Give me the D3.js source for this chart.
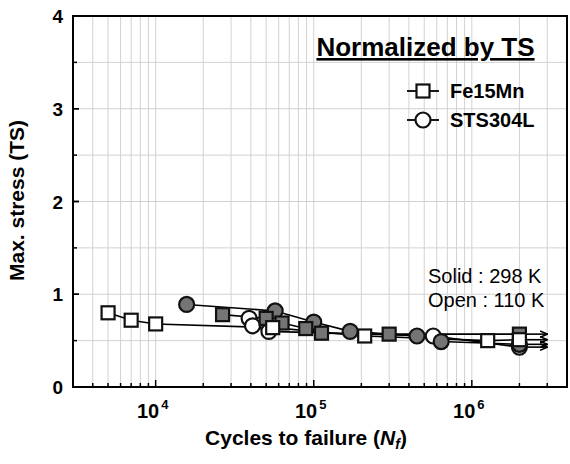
<!DOCTYPE html>
<meta charset="utf-8">
<title>Max. stress vs cycles to failure</title>
<script src="https://d3js.org/d3.v7.min.js"></script>
<style>
  body { margin: 0; background: #fff; font-family: "Liberation Sans", Arial, sans-serif; }
</style>
<div id="chart"></div>
<script>
// data: [cycles, max stress / TS]
var fe15mnOpen = [[5000, 0.80], [7000, 0.72], [10000, 0.68], [55000, 0.64], [210000, 0.55], [1260000, 0.50], [2000000, 0.51]];
var fe15mnSolid = [[26500, 0.78], [50000, 0.74], [63000, 0.69], [89000, 0.63], [112000, 0.58], [300000, 0.57], [2000000, 0.57]];
var sts304lSolid = [[15700, 0.89], [57000, 0.82], [100000, 0.70], [170000, 0.60], [450000, 0.55], [640000, 0.49], [2000000, 0.46]];
var sts304lOpen = [[39000, 0.74], [41000, 0.66], [52000, 0.60], [570000, 0.55], [2000000, 0.43]];
var runoutEnd = 3000000;
var yTicks = [0, 1, 2, 3, 4];
var xTickExps = [4, 5, 6];

var W = 570, H = 464;
var margins = {top: 16, right: 3, bottom: 77, left: 73},
    width = W - margins.left - margins.right,
    height = H - margins.top - margins.bottom;

var svg = d3.select("#chart").append("svg")
    .attr("width", W).attr("height", H)
  .append("g")
    .attr("transform", "translate(" + margins.left + "," + margins.top + ")");

var x = d3.scaleLog().domain([3000, 4000000]).range([0, width]);
var y = d3.scaleLinear().domain([0, 4]).range([height, 0]);

// minor/major positions on the log axis
var xGrid = [];
[3, 4, 5, 6].forEach(function(e) {
  for (var m = 1; m <= 9; m++) {
    var v = m * Math.pow(10, e);
    if (v > 3000 && v < 4000000) xGrid.push(v);
  }
});
var yGrid = d3.range(0.5, 4, 0.5);

// gridlines
svg.append("g").selectAll("line").data(xGrid).enter().append("line")
  .attr("x1", function(d) { return x(d); }).attr("x2", function(d) { return x(d); })
  .attr("y1", 0).attr("y2", height)
  .attr("stroke", "#d2d2d2").attr("stroke-width", 1);
svg.append("g").selectAll("line").data(yGrid).enter().append("line")
  .attr("x1", 0).attr("x2", width)
  .attr("y1", function(d) { return y(d); }).attr("y2", function(d) { return y(d); })
  .attr("stroke", "#d2d2d2").attr("stroke-width", 1);

// inward ticks
svg.append("g").selectAll("line").data(xGrid).enter().append("line")
  .attr("x1", function(d) { return x(d); }).attr("x2", function(d) { return x(d); })
  .attr("y1", height)
  .attr("y2", function(d) { return xTickExps.indexOf(Math.log10(d)) >= 0 ? height - 7 : height - 4; })
  .attr("stroke", "#000").attr("stroke-width", 1.5);
svg.append("g").selectAll("line").data(yGrid.concat(yTicks)).enter().append("line")
  .attr("x1", 0)
  .attr("x2", function(d) { return d % 1 === 0 ? 6 : 4; })
  .attr("y1", function(d) { return y(d); }).attr("y2", function(d) { return y(d); })
  .attr("stroke", "#000").attr("stroke-width", 1.5);

// frame
svg.append("rect").attr("x", 0).attr("y", 0).attr("width", width).attr("height", height)
  .attr("fill", "none").attr("stroke", "#000").attr("stroke-width", 2);

// tick labels
svg.append("g").selectAll("text").data(yTicks).enter().append("text")
  .attr("x", -10).attr("y", function(d) { return y(d) + 7; })
  .attr("text-anchor", "end")
  .style("font-size", "19px").style("font-weight", "bold")
  .text(function(d) { return d; });

var xl = svg.append("g").selectAll("text").data(xTickExps).enter().append("text")
  .attr("x", function(d) { return x(Math.pow(10, d)) - 3; })
  .attr("y", height + 31)
  .attr("text-anchor", "middle")
  .style("font-size", "20px").style("font-weight", "bold");
xl.append("tspan").text("10");
xl.append("tspan").attr("dy", -9).attr("dx", 2).style("font-size", "13px").text(function(d) { return d; });

// axis titles
var xt = svg.append("text")
  .attr("x", 233).attr("y", height + 58)
  .attr("text-anchor", "middle")
  .style("font-size", "21px").style("font-weight", "bold");
xt.append("tspan").text("Cycles to failure (");
xt.append("tspan").style("font-style", "italic").text("N");
xt.append("tspan").style("font-style", "italic").style("font-size", "14px").attr("dy", 4).text("f");
xt.append("tspan").attr("dy", -4).text(")");

svg.append("text")
  .attr("transform", "translate(-49," + (y(2) - 1) + ") rotate(-90)")
  .attr("text-anchor", "middle")
  .style("font-size", "21px").style("font-weight", "bold")
  .text("Max. stress (TS)");

// runout arrows from 2e6
svg.append("defs").append("marker")
  .attr("id", "arr").attr("viewBox", "0 0 10 10")
  .attr("refX", 9).attr("refY", 5)
  .attr("markerWidth", 5).attr("markerHeight", 5)
  .attr("orient", "auto")
  .append("path").attr("d", "M0,1 L9,5 L0,9").attr("fill", "none").attr("stroke", "#000").attr("stroke-width", 2);

var series = [
  {data: sts304lOpen, shape: "circle", fill: "#fff"},
  {data: sts304lSolid, shape: "circle", fill: "#757575"},
  {data: fe15mnSolid, shape: "square", fill: "#757575"},
  {data: fe15mnOpen, shape: "square", fill: "#fff"}
];

var line = d3.line().x(function(d) { return x(d[0]); }).y(function(d) { return y(d[1]); });

series.forEach(function(s) {
  var last = s.data[s.data.length - 1];
  svg.append("path").attr("d", line(s.data))
    .attr("fill", "none").attr("stroke", "#000").attr("stroke-width", 1.6);
  svg.append("line")
    .attr("x1", x(last[0])).attr("x2", x(runoutEnd))
    .attr("y1", y(last[1])).attr("y2", y(last[1]))
    .attr("stroke", "#000").attr("stroke-width", 1.6)
    .attr("marker-end", "url(#arr)");
});

series.forEach(function(s) {
  var g = svg.append("g");
  if (s.shape === "circle") {
    g.selectAll("circle").data(s.data).enter().append("circle")
      .attr("cx", function(d) { return x(d[0]); })
      .attr("cy", function(d) { return y(d[1]); })
      .attr("r", 7.5)
      .attr("fill", s.fill).attr("stroke", "#111").attr("stroke-width", 2.2);
  } else {
    g.selectAll("rect").data(s.data).enter().append("rect")
      .attr("x", function(d) { return x(d[0]) - 6.5; })
      .attr("y", function(d) { return y(d[1]) - 6.5; })
      .attr("width", 13).attr("height", 13)
      .attr("fill", s.fill).attr("stroke", "#111").attr("stroke-width", 2.2);
  }
});

// annotation
svg.append("text")
  .attr("x", 238 + 229 / 2).attr("y", 40)
  .attr("text-anchor", "middle")
  .style("font-size", "26px").style("font-weight", "bold")
  .style("text-decoration", "underline")
  .text("Normalized by TS");

var legend = [{name: "Fe15Mn", shape: "square"}, {name: "STS304L", shape: "circle"}];
legend.forEach(function(l, i) {
  var ly = 75 + i * 29;
  svg.append("line").attr("x1", 334).attr("x2", 366).attr("y1", ly).attr("y2", ly)
    .attr("stroke", "#000").attr("stroke-width", 1.8);
  if (l.shape === "square") {
    svg.append("rect").attr("x", 350 - 6.5).attr("y", ly - 6.5).attr("width", 13).attr("height", 13)
      .attr("fill", "#fff").attr("stroke", "#111").attr("stroke-width", 2.2);
  } else {
    svg.append("circle").attr("cx", 350).attr("cy", ly).attr("r", 7.5)
      .attr("fill", "#fff").attr("stroke", "#111").attr("stroke-width", 2.2);
  }
  svg.append("text").attr("x", 377).attr("y", ly + 7)
    .style("font-size", "20px").style("font-weight", "bold")
    .text(l.name);
});

svg.append("text").attr("x", 355).attr("y", 267)
  .style("font-size", "20px").text("Solid : 298 K");
svg.append("text").attr("x", 355).attr("y", 291)
  .style("font-size", "20px").text("Open : 110 K");
</script>
